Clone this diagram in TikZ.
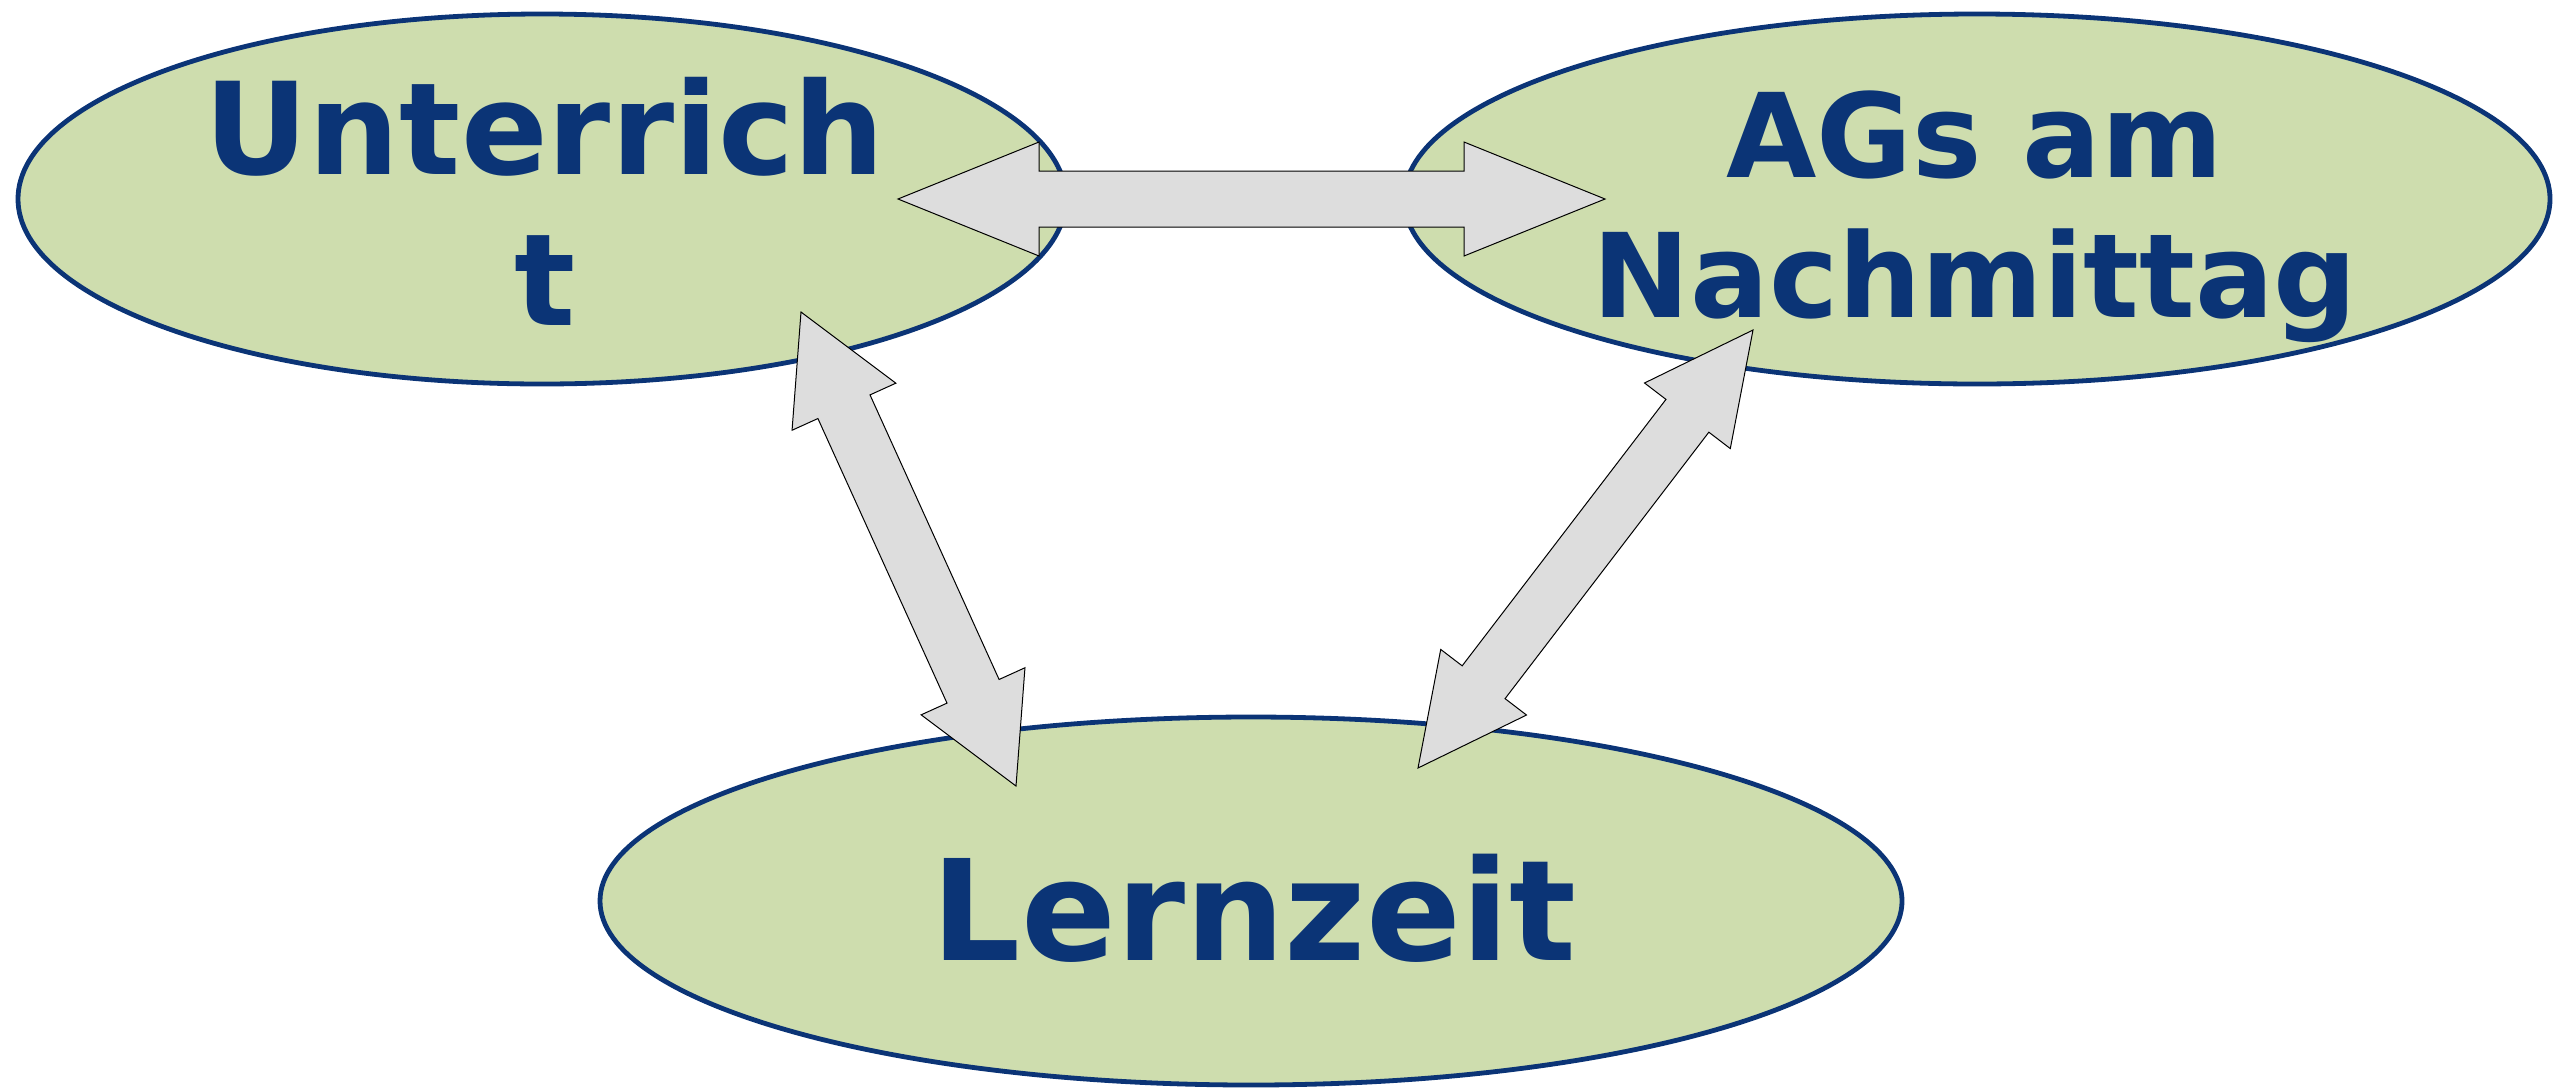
\documentclass[tikz,border=0pt]{standalone}
\usepackage{fontspec}
\setmainfont{DejaVu Sans}
\usetikzlibrary{shapes.geometric,calc}
\definecolor{fillg}{HTML}{CEDDAE}
\definecolor{navy}{HTML}{0B3476}
\definecolor{arrg}{HTML}{DDDDDD}
\newcommand\dblarrow[5]{%
 \draw[arrowbox] (#1) -- ($(#1)!#3!(#2)!#4!90:(#2)$) -- ($(#1)!#3!(#2)!#5!90:(#2)$)
   -- ($(#2)!#3!(#1)!#5!-90:(#1)$) -- ($(#2)!#3!(#1)!#4!-90:(#1)$) -- (#2)
   -- ($(#2)!#3!(#1)!#4!90:(#1)$) -- ($(#2)!#3!(#1)!#5!90:(#1)$)
   -- ($(#1)!#3!(#2)!#5!-90:(#2)$) -- ($(#1)!#3!(#2)!#4!-90:(#2)$) -- cycle;}
\begin{document}
\begin{tikzpicture}[x=0.5pt,y=-0.5pt,
  ell/.style={ellipse,draw=navy,fill=fillg,line width=2.4pt,inner sep=0pt},
  lbl/.style={text=navy,font=\bfseries,align=center,inner sep=0pt},
  arrowbox/.style={draw=black,fill=arrg,line width=0.5pt,line join=miter}]
\useasboundingbox (0,0) rectangle (2563,1088);
\node[ell,minimum width=524pt,minimum height=185pt] (U) at (542,199) {};
\node[ell,minimum width=573pt,minimum height=185pt] (A) at (1977,199) {};
\node[ell,minimum width=651pt,minimum height=184pt] (L) at (1251,901) {};
\node[lbl,font={\bfseries\fontsize{64}{75.5}\selectfont}] (tU) at (545,201) {Unterrich\\t};
\node[lbl,font={\bfseries\fontsize{58.4}{70}\selectfont}] (tA) at (1975,217) {AGs am\\Nachmittag};
\node[lbl,font={\bfseries\fontsize{70}{84}\selectfont},anchor=base] (tL) at (1254,960) {Lernzeit};
\coordinate (h1) at (898,199);
\coordinate (h2) at (1605,199);
\coordinate (d1) at (801,312);
\coordinate (d2) at (1016,786);
\coordinate (e1) at (1753,330);
\coordinate (e2) at (1418,768);
\dblarrow{h1}{h2}{70.5pt}{28.5pt}{14pt}
\dblarrow{d1}{d2}{52pt}{28.5pt}{14.3pt}
\dblarrow{e1}{e2}{54pt}{27pt}{13.5pt}
\end{tikzpicture}
\end{document}
